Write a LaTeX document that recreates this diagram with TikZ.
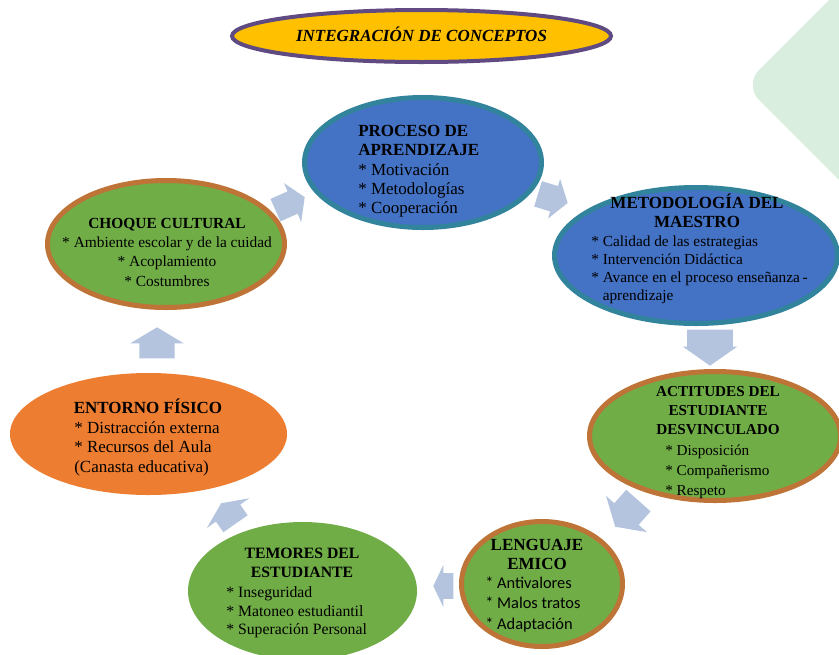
\documentclass[tikz,border=0pt]{standalone}
\usepackage{fontspec}
\setmainfont{Liberation Serif}
\newfontfamily\carlito{Carlito}
\usetikzlibrary{shapes.geometric,shapes.arrows}
\definecolor{bluefill}{HTML}{4472C4}
\definecolor{tealb}{RGB}{49,132,155}
\definecolor{greenfill}{HTML}{70AD47}
\definecolor{brownb}{RGB}{190,115,55}
\definecolor{orangefill}{HTML}{ED7D31}
\definecolor{titlefill}{HTML}{FFC000}
\definecolor{titleb}{RGB}{95,75,130}
\definecolor{arrowc}{RGB}{180,196,222}
\definecolor{bgc}{RGB}{218,238,224}
\newcommand\blk[2]{\begin{tabular}[t]{@{}#1@{}}#2\end{tabular}}
\newcommand\fs[2]{\fontsize{#1}{#2}\selectfont}
\begin{document}
\begin{tikzpicture}[x=0.75pt,y=-0.75pt,
  ell/.style={ellipse, inner sep=0pt},
  bluee/.style={ell, fill=bluefill, draw=tealb, line width=3.75pt},
  greene/.style={ell, fill=greenfill, draw=brownb, line width=3.75pt},
  plaing/.style={ell, fill=greenfill},
  orangee/.style={ell, fill=orangefill},
  titlee/.style={ell, fill=titlefill, draw=titleb, line width=3pt},
  txt/.style={inner sep=0pt, text=black},
  barrow/.style={single arrow, fill=arrowc, draw=none, inner xsep=0pt, anchor=tip},
]
\useasboundingbox (0,0) rectangle (839,654);
\clip (0,0) rectangle (839,654);
\fill[white] (0,0) rectangle (839,654);
% background shape
\fill[bgc, rounded corners=16pt] (744,85) -- (849,-20) -- (1000,131) -- (895,236) -- cycle;

% title
\node[titlee, minimum width=284.25pt, minimum height=39pt] (title) at (421.5,36) {};
\node[txt, anchor=base, font=\fs{12.75}{15}\bfseries\itshape] (titlet) at (421.5,41.5) {INTEGRACIÓN DE CONCEPTOS};

% ellipses
\node[bluee, minimum width=177.75pt, minimum height=97.5pt] (proc) at (423,162.5) {};
\node[bluee, minimum width=212.25pt, minimum height=102pt] (metod) at (696,255.5) {};
\node[greene, minimum width=188.25pt, minimum height=96.75pt] (act) at (715,436) {};
\node[greene, minimum width=120.75pt, minimum height=93.75pt] (leng) at (542,584) {};
\node[plaing, minimum width=171.75pt, minimum height=103.5pt] (tem) at (302.5,591) {};
\node[orangee, minimum width=207.75pt, minimum height=91.5pt] (ent) at (148.5,434) {};
\node[greene, minimum width=177.75pt, minimum height=95.25pt] (cho) at (166,244) {};

% texts
\node[txt, anchor=base west, font=\fs{12.75}{14.4}] (proct) at (358,136.6)
  {\blk{l}{\textbf{PROCESO DE}\\\textbf{APRENDIZAJE}\\{}* Motivación\\{}* Metodologías\\{}* Cooperación}};

\node[txt, anchor=base, font=\fs{12.75}{14.25}\bfseries] (metodh) at (697,208.6)
  {\blk{c}{METODOLOGÍA DEL\\MAESTRO}};
\node[txt, anchor=base west, font=\fs{11.5}{13.5}] (metodi) at (591,246)
  {\blk{l}{{}* Calidad de las estrategias\\{}* Intervención Didáctica\\{}* Avance en el proceso enseñanza\,-\\\phantom{* }aprendizaje}};

\node[txt, anchor=base, font=\fs{11.4}{14.6}\bfseries] (acth) at (718,396)
  {\blk{c}{ACTITUDES DEL\\ESTUDIANTE\\DESVINCULADO}};
\node[txt, anchor=base west, font=\fs{11.4}{15}] (acti) at (665,455)
  {\blk{l}{{}* Disposición\\{}* Compañerismo\\{}* Respeto}};

\node[txt, anchor=base, font=\fs{11.55}{14.6}] (chot) at (167,228)
  {\blk{c}{\textbf{CHOQUE CULTURAL}\\{}* Ambiente escolar y de la cuidad\\{}* Acoplamiento\\{}* Costumbres}};

\node[txt, anchor=base, font=\fs{12.75}{14.5}\bfseries] (enth) at (148,413.6) {ENTORNO FÍSICO};
\node[txt, anchor=base west, font=\fs{12.75}{14.5}] (enti) at (74,433.6)
  {\blk{l}{{}* Distracción externa\\{}* Recursos del Aula\\(Canasta educativa)}};

\node[txt, anchor=base, font=\fs{11.8}{14.3}\bfseries] (temh) at (302,558)
  {\blk{c}{TEMORES DEL\\ESTUDIANTE}};
\node[txt, anchor=base west, font=\fs{11.8}{13.9}] (temi) at (226,597.5)
  {\blk{l}{{}* Inseguridad\\{}* Matoneo estudiantil\\{}* Superación Personal}};

\node[txt, anchor=base, font=\fs{12.75}{13.9}\bfseries] (lengh) at (537,550.6)
  {\blk{c}{LENGUAJE\\EMICO}};
\node[txt, anchor=base west, font=\carlito\fs{12.3}{15.4}] (lengi) at (485,588)
  {\blk{l}{{}* Antivalores\\{}* Malos tratos\\{}* Adaptación}};

% block arrows
\node[barrow, rotate=-17, minimum height=23.25pt, inner ysep=9.75pt, single arrow head extend=5.6pt, single arrow tip angle=111] (a1) at (568,203) {};
\node[barrow, rotate=-90, minimum height=27pt, inner ysep=16.9pt, single arrow head extend=3.4pt, single arrow tip angle=110] (a2) at (710,366) {};
\node[barrow, rotate=-131.5, minimum height=26.25pt, inner ysep=12pt, single arrow head extend=8.25pt, single arrow tip angle=116] (a3) at (615,527) {};
\node[barrow, rotate=180, minimum height=15pt, inner ysep=9.4pt, single arrow head extend=6.4pt, single arrow tip angle=129] (a4) at (433,586) {};
\node[barrow, rotate=125, minimum height=18.75pt, inner ysep=10.9pt, single arrow head extend=8.25pt, single arrow tip angle=130] (a5) at (221,503) {};
\node[barrow, rotate=90, minimum height=23.25pt, inner ysep=13.1pt, single arrow head extend=6.75pt, single arrow tip angle=118] (a6) at (157,327) {};
\node[barrow, rotate=24, minimum height=24pt, inner ysep=9pt, single arrow head extend=6.75pt, single arrow tip angle=116] (a7) at (305,197) {};
\end{tikzpicture}
\end{document}
